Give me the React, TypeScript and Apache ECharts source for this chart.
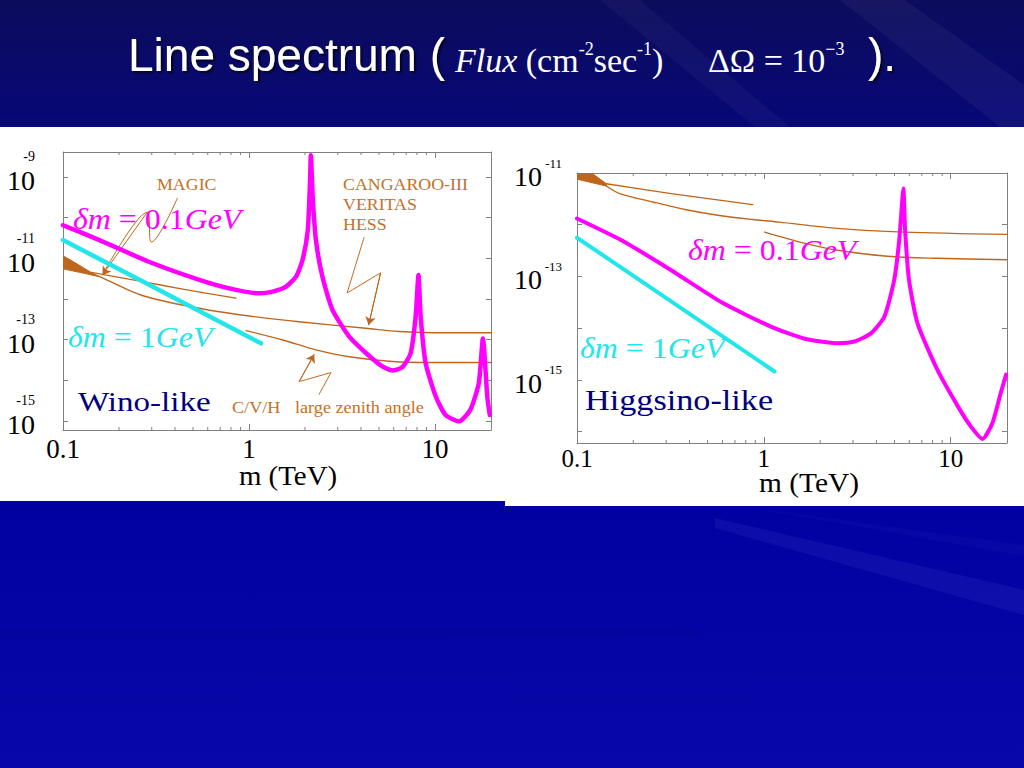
import React, { useEffect, useRef } from 'react';
import * as echarts from 'echarts';

// ---------------- styles ----------------
const SERIF = '"Liberation Serif", "Times New Roman", serif';
const SANS = '"Liberation Sans", Arial, sans-serif';
const MAGENTA = '#ff00ff';
const CYAN = '#22e6ea';
const ORANGE = '#c0661c';
const ORANGE_TEXT = '#c47028';
const NAVY = '#00007e';
const FRAME = '#808080';
const BG = 'linear-gradient(to bottom, #0c0c5c 0%, #07077a 18%, #0000a0 60%, #0808aa 100%)';

// ---------------- axes data ----------------
const X_MIN = 0.1;
const X_MAX = 20;
const X_TICK_LABELS: [number, string][] = [[-1, '0.1'], [0, '1'], [1, '10']];
const MINOR_X = [0.2, 0.3, 0.4, 0.5, 0.6, 0.7, 0.8, 0.9, 2, 3, 4, 5, 6, 7, 8, 9];
const WINO_Y_LABELS = [-9, -11, -13, -15];
const HIGGS_Y_LABELS = [-11, -13, -15];
const WINO_Y_MIN = 6.0e-16;
const WINO_Y_MAX = 4.1e-9;
const HIGGS_Y_MIN = 6.0e-17;
const HIGGS_Y_MAX = 1e-11;

// ---------------- Wino-like (left) ----------------
const WINO_DM01: [number, number][] = [
  [0.1, 6.5e-11], [0.157, 2.8e-11], [0.292, 8.1e-12], [0.541, 2.95e-12], [0.817, 1.74e-12],
  [1.135, 1.38e-12], [1.34, 1.51e-12], [1.58, 2.0e-12], [1.79, 3.55e-12], [1.94, 9.1e-12],
  [2.07, 4.9e-11], [2.13, 8.3e-10], [2.15, 3.4e-9], [2.2, 3.2e-10], [2.29, 2.8e-11],
  [2.48, 3.55e-12], [2.81, 5.4e-13], [3.45, 1.2e-13], [4.25, 4.7e-14], [5.21, 2.2e-14],
  [5.9, 1.74e-14], [6.68, 2.1e-14], [7.4, 4.7e-14], [7.87, 3.7e-13], [8.15, 3.9e-12],
  [8.37, 3.7e-13], [8.91, 2.6e-14], [10.1, 4.0e-15], [11.4, 1.4e-15], [13.5, 9.8e-16],
  [15.5, 1.9e-15], [17.2, 8.5e-15], [18.1, 1.07e-13], [19.1, 4.0e-15], [19.7, 1.4e-15],
];
const WINO_DM1: [number, number][] = [[0.1, 2.8e-11], [0.292, 2.2e-12], [1.16, 8.1e-14]];
const WINO_MAGIC: [number, number][] = [[0.142, 4.5e-12], [0.238, 2.95e-12], [0.44, 1.74e-12], [0.851, 1.05e-12]];
const WINO_CVH: [number, number][] = [
  [0.1426, 4.0e-12], [0.157, 3.55e-12], [0.269, 1.2e-12], [0.541, 5.9e-13], [0.887, 4.1e-13],
  [1.86, 2.75e-13], [4.25, 1.9e-13], [6.41, 1.58e-13], [9.68, 1.48e-13], [20, 1.48e-13],
];
const WINO_ZENITH: [number, number][] = [
  [0.964, 1.66e-13], [1.52, 9.8e-14], [2.29, 5.6e-14], [3.45, 3.8e-14], [5.9, 2.9e-14], [9.68, 2.75e-14], [20, 2.75e-14],
];
const WINO_BAND: [number, number][] = [
  [0.1, 1.15e-11], [0.117, 7.6e-12], [0.1426, 4.4e-12], [0.157, 3.55e-12], [0.126, 4.4e-12], [0.1, 5.5e-12],
];
const ARROW_MAGIC: [number, number][] = [[0.412, 3.0e-10], [0.299, 2.5e-11], [0.284, 1.36e-10], [0.163, 3.9e-12]];
const ARROW_CVH: [number, number][] = [[4.15, 3.2e-11], [3.37, 1.4e-12], [5.1, 4.4e-12], [4.4, 2.3e-13]];
const ARROW_ZENITH: [number, number][] = [[2.38, 4.5e-15], [2.76, 1.55e-14], [1.86, 9.3e-15], [2.24, 4.3e-14]];

// ---------------- Higgsino-like (right) ----------------
const HIGGS_DM01: [number, number][] = [
  [0.1, 1.32e-12], [0.173, 5.0e-13], [0.319, 1.32e-13], [0.59, 3.2e-14], [1.09, 1.07e-14],
  [1.64, 6.3e-15], [2.48, 5.1e-15], [3.04, 5.5e-15], [3.74, 7.9e-15], [4.41, 1.66e-14],
  [4.98, 8.5e-14], [5.3, 5.0e-13], [5.52, 3.5e-12], [5.58, 5.0e-12], [5.7, 7.8e-13],
  [5.98, 8.5e-14], [6.64, 1.23e-14], [8.49, 1.55e-15], [10.9, 3.1e-16], [12.8, 1.26e-16],
  [14.8, 7.2e-17], [16.7, 1.45e-16], [18.5, 5.5e-16], [19.8, 1.26e-15],
];
const HIGGS_DM1: [number, number][] = [[0.1, 5.6e-13], [0.319, 3.3e-14], [1.14, 1.45e-15]];
const HIGGS_MAGIC: [number, number][] = [[0.1435, 6.2e-12], [0.319, 4.0e-12], [0.871, 2.45e-12]];
const HIGGS_CVH: [number, number][] = [
  [0.1435, 5.6e-12], [0.169, 4.0e-12], [0.255, 2.75e-12], [0.384, 1.95e-12], [0.578, 1.51e-12],
  [0.871, 1.26e-12], [1.21, 1.12e-12], [2.48, 8.5e-13], [5.64, 7.2e-13], [20, 6.5e-13],
];
const HIGGS_ZENITH: [number, number][] = [
  [1.01, 7.2e-13], [1.64, 4.4e-13], [2.48, 3.2e-13], [4.59, 2.45e-13], [8.49, 2.24e-13], [20, 2.1e-13],
];
const HIGGS_BAND: [number, number][] = [[0.1, 1.0e-11], [0.12, 1.0e-11], [0.1435, 6.2e-12], [0.1435, 5.6e-12], [0.1, 7.6e-12]];

// ---------------- helpers ----------------
const xFmt = (v: number) => {
  const l = Math.log10(v);
  const r = Math.round(l);
  if (Math.abs(l - r) > 1e-6) return '';
  const f = X_TICK_LABELS.find((t) => t[0] === r);
  return f ? f[1] : '';
};
const yFmt = (exps: number[]) => (v: number) => {
  const l = Math.log10(v);
  const r = Math.round(l);
  if (Math.abs(l - r) > 1e-6 || !exps.includes(r)) return '';
  return `{s|${r}}\n{b|10}`;
};

type LabCfg = { supSize: number; supLH: number; baseLH: number; padRight: number; tokenPadBottom: number; labelPadBottom: number };

function xAxis(gi: number, pos: string, showLabel: boolean, fontSize: number, margin: number) {
  return {
    type: 'log', logBase: 10, gridIndex: gi, position: pos, min: X_MIN, max: X_MAX,
    axisLine: { show: true, onZero: false, lineStyle: { color: FRAME, width: 1 } },
    axisTick: { show: true, inside: true, length: 6, lineStyle: { color: FRAME, width: 1 } },
    minorTick: { show: false }, splitLine: { show: false }, minorSplitLine: { show: false },
    axisLabel: { show: showLabel, interval: 0, margin, fontFamily: SERIF, fontSize, color: '#000', formatter: xFmt },
    axisPointer: { show: false },
  };
}
function yAxis(gi: number, pos: string, min: number, max: number, labels: number[] | null, margin: number, lab: LabCfg | null) {
  return {
    type: 'log', logBase: 10, gridIndex: gi, position: pos, min, max,
    axisLine: { show: true, onZero: false, lineStyle: { color: FRAME, width: 1 } },
    axisTick: { show: true, inside: true, length: 5, lineStyle: { color: FRAME, width: 1 } },
    minorTick: { show: false }, splitLine: { show: false }, minorSplitLine: { show: false },
    axisLabel: labels && lab
      ? {
          show: true, interval: 0, margin, formatter: yFmt(labels),
          padding: [0, 0, lab.labelPadBottom, 0],
          rich: {
            s: { fontFamily: SERIF, fontSize: lab.supSize, lineHeight: lab.supLH, color: '#000' },
            b: {
              fontFamily: SERIF, fontSize: 28, lineHeight: lab.baseLH, color: '#000',
              padding: [0, lab.padRight, lab.tokenPadBottom, 0],
            },
          },
        }
      : { show: false },
    axisPointer: { show: false },
  };
}
function lineS(data: [number, number][], xi: number, yi: number, color: string, width: number, z = 3, smooth: number | boolean = false) {
  return {
    type: 'line', data, xAxisIndex: xi, yAxisIndex: yi, symbol: 'none', showSymbol: false, silent: true,
    smooth, clip: true, z, lineStyle: { color, width, cap: 'round', join: 'round' }, itemStyle: { color },
  };
}
function bandS(data: [number, number][], xi: number, yi: number) {
  return {
    type: 'custom', xAxisIndex: xi, yAxisIndex: yi, silent: true, clip: true, z: 3, data,
    renderItem: (params: any, api: any) => {
      if (params.dataIndex !== 0) return null;
      const pts = data.map((d) => api.coord(d));
      return { type: 'polygon', shape: { points: pts }, style: { fill: ORANGE, stroke: ORANGE, lineWidth: 1 } };
    },
  };
}
function minorS(xi: number, yi: number, yRef: number) {
  return {
    type: 'custom', xAxisIndex: xi, yAxisIndex: yi, silent: true, clip: false, z: 5,
    data: MINOR_X.map((x) => [x, yRef]),
    renderItem: (params: any, api: any) => {
      const cs = params.coordSys;
      const p = api.coord([api.value(0), api.value(1)]);
      const len = 3;
      return {
        type: 'group',
        children: [
          { type: 'line', shape: { x1: p[0], y1: cs.y, x2: p[0], y2: cs.y + len }, style: { stroke: FRAME, lineWidth: 1 } },
          { type: 'line', shape: { x1: p[0], y1: cs.y + cs.height, x2: p[0], y2: cs.y + cs.height - len }, style: { stroke: FRAME, lineWidth: 1 } },
        ],
      };
    },
  };
}
function arrowS(data: [number, number][]) {
  return {
    ...lineS(data, 0, 0, ORANGE, 1, 4, 0.35),
    markLine: {
      silent: true, symbol: ['none', 'arrow'], symbolSize: 8, label: { show: false },
      lineStyle: { color: ORANGE, width: 1, type: 'solid' },
      emphasis: { disabled: true },
      data: [[{ coord: data[data.length - 2] }, { coord: data[data.length - 1] }]],
    },
  };
}
function txt(text: string, x: number, y: number, size: number, color: string, opts: any = {}) {
  return {
    type: 'text', x, y, z: 100, scaleX: opts.scaleX || 1, silent: true,
    style: {
      text, fill: color, fontFamily: opts.family || SERIF, fontSize: size, fontStyle: opts.italic ? 'italic' : 'normal',
      align: opts.align || 'left', textAlign: opts.align || 'left', verticalAlign: 'middle', textVerticalAlign: 'middle',
      rich: opts.rich, textShadowColor: opts.shadow ? 'rgba(0,0,0,0.75)' : undefined,
      textShadowOffsetX: opts.shadow ? 2 : 0, textShadowOffsetY: opts.shadow ? 2 : 0, textShadowBlur: opts.shadow ? 2 : 0,
    },
  };
}
const dmRich = (color: string, size: number) => ({
  i: { fontFamily: SERIF, fontStyle: 'italic', fontSize: size, fill: color, color },
  r: { fontFamily: SERIF, fontSize: size, fill: color, color },
});
const eqRich = {
  i: { fontFamily: SERIF, fontStyle: 'italic', fontSize: 34, lineHeight: 40, fill: '#fff', color: '#fff' },
  r: { fontFamily: SERIF, fontSize: 34, lineHeight: 40, fill: '#fff', color: '#fff' },
  s: { fontFamily: SERIF, fontSize: 18, lineHeight: 14, verticalAlign: 'top', fill: '#fff', color: '#fff' },
};

function buildOption() {
  const streak = (pts: number[][], fill: string) => ({ type: 'polygon', z: -20, silent: true, shape: { points: pts }, style: { fill } });
  const leftLab: LabCfg = { supSize: 14, supLH: 18, baseLH: 30, padRight: 0, tokenPadBottom: 0, labelPadBottom: 10 };
  const rightLab: LabCfg = { supSize: 13, supLH: 12, baseLH: 20, padRight: 20, tokenPadBottom: 5, labelPadBottom: 0 };
  return {
    animation: false,
    backgroundColor: 'transparent',
    tooltip: { show: false },
    grid: [
      { left: 63, top: 152, width: 428, height: 278, show: false, containLabel: false, outerBoundsMode: 'none' },
      { left: 577, top: 173, width: 430, height: 270, show: false, containLabel: false, outerBoundsMode: 'none' },
    ],
    xAxis: [
      xAxis(0, 'bottom', true, 27, 5),
      xAxis(0, 'top', false, 27, 5),
      xAxis(1, 'bottom', true, 25, 3),
      xAxis(1, 'top', false, 25, 3),
    ],
    yAxis: [
      yAxis(0, 'left', WINO_Y_MIN, WINO_Y_MAX, WINO_Y_LABELS, 28, leftLab),
      yAxis(0, 'right', WINO_Y_MIN, WINO_Y_MAX, null, 0, null),
      yAxis(1, 'left', HIGGS_Y_MIN, HIGGS_Y_MAX, HIGGS_Y_LABELS, 15, rightLab),
      yAxis(1, 'right', HIGGS_Y_MIN, HIGGS_Y_MAX, null, 0, null),
    ],
    series: [
      bandS(WINO_BAND, 0, 0),
      lineS(WINO_MAGIC, 0, 0, ORANGE, 1.4, 3, 0.3),
      lineS(WINO_CVH, 0, 0, ORANGE, 1.4, 3, 0.3),
      lineS(WINO_ZENITH, 0, 0, ORANGE, 1.4, 3, 0.3),
      arrowS(ARROW_MAGIC),
      arrowS(ARROW_CVH),
      arrowS(ARROW_ZENITH),
      lineS(WINO_DM1, 0, 0, CYAN, 4.5, 6),
      lineS(WINO_DM01, 0, 0, MAGENTA, 4.5, 7, 0.2),
      minorS(0, 0, 1e-12),
      bandS(HIGGS_BAND, 2, 2),
      lineS(HIGGS_MAGIC, 2, 2, ORANGE, 1.4, 3, 0.3),
      lineS(HIGGS_CVH, 2, 2, ORANGE, 1.4, 3, 0.3),
      lineS(HIGGS_ZENITH, 2, 2, ORANGE, 1.4, 3, 0.3),
      lineS(HIGGS_DM1, 2, 2, CYAN, 4, 6),
      lineS(HIGGS_DM01, 2, 2, MAGENTA, 4, 7, 0.2),
      minorS(2, 2, 1e-12),
    ],
    graphic: [
      streak([[600, 0], [640, 0], [790, 127], [755, 127]], 'rgba(255,255,255,0.035)'),
      streak([[840, 0], [905, 0], [1024, 85], [1024, 127], [1000, 127]], 'rgba(255,255,255,0.045)'),
      streak([[715, 518], [1024, 590], [1024, 615], [715, 528]], 'rgba(150,160,255,0.08)'),
      streak([[740, 506], [1024, 545], [1024, 556]], 'rgba(150,160,255,0.04)'),
      streak([[0, 628], [700, 630], [700, 637], [0, 640]], 'rgba(0,0,50,0.06)'),
      { type: 'rect', z: -10, silent: true, shape: { x: 0, y: 127, width: 505, height: 374 }, style: { fill: '#ffffff' } },
      { type: 'rect', z: -10, silent: true, shape: { x: 505, y: 127, width: 519, height: 379 }, style: { fill: '#ffffff' } },
      // title
      txt('Line spectrum (', 128, 55, 46, '#ffffff', { family: SANS, shadow: true }),
      txt('{i|Flux}{r| (cm}{s|-2}{r|sec}{s|-1}{r|)}', 455, 60, 34, '#ffffff', { rich: eqRich }),
      txt('{r|ΔΩ = 10}{s|−3}', 708, 60, 34, '#ffffff', { rich: eqRich }),
      txt(').', 868, 55, 46, '#ffffff', { family: SANS, shadow: true }),
      // left annotations
      txt('{i|δm}{r| = 0.1}{i|GeV}', 73, 219, 29, MAGENTA, { rich: dmRich(MAGENTA, 29), scaleX: 1.1 }),
      txt('{i|δm}{r| = 1}{i|GeV}', 68, 337, 29, CYAN, { rich: dmRich(CYAN, 29), scaleX: 1.1 }),
      txt('Wino-like', 78, 402, 28, NAVY, { scaleX: 1.18 }),
      txt('MAGIC', 157, 184, 17, ORANGE_TEXT, { scaleX: 1.05 }),
      txt('CANGAROO-III', 343, 184, 17, ORANGE_TEXT, { scaleX: 1.05 }),
      txt('VERITAS', 343, 204, 17, ORANGE_TEXT, { scaleX: 1.05 }),
      txt('HESS', 343, 224, 17, ORANGE_TEXT, { scaleX: 1.05 }),
      txt('C/V/H', 232, 407, 17, ORANGE_TEXT, { scaleX: 1.07 }),
      txt('large zenith angle', 295, 407, 17, ORANGE_TEXT, { scaleX: 1.07 }),
      txt('m (TeV)', 288, 476, 27, '#000', { align: 'center', scaleX: 1.07 }),
      // right annotations
      txt('{i|δm}{r| = 0.1}{i|GeV}', 688, 250, 29, MAGENTA, { rich: dmRich(MAGENTA, 29), scaleX: 1.1 }),
      txt('{i|δm}{r| = 1}{i|GeV}', 580, 348, 29, CYAN, { rich: dmRich(CYAN, 29), scaleX: 1.1 }),
      txt('Higgsino-like', 585, 400, 29, NAVY, { scaleX: 1.18 }),
      txt('m (TeV)', 809, 483, 27, '#000', { align: 'center', scaleX: 1.09 }),
    ],
  };
}

export default function App() {
  const ref = useRef<HTMLDivElement>(null);
  useEffect(() => {
    document.body.style.margin = '0';
    if (!ref.current) return;
    const chart = echarts.init(ref.current, null, { renderer: 'svg' });
    chart.setOption(buildOption() as any);
    return () => chart.dispose();
  }, []);
  return (
    <div style={{ position: 'fixed', left: 0, top: 0, width: 1024, height: 768, background: BG, overflow: 'hidden' }}>
      <div ref={ref} style={{ width: 1024, height: 768 }} />
    </div>
  );
}
